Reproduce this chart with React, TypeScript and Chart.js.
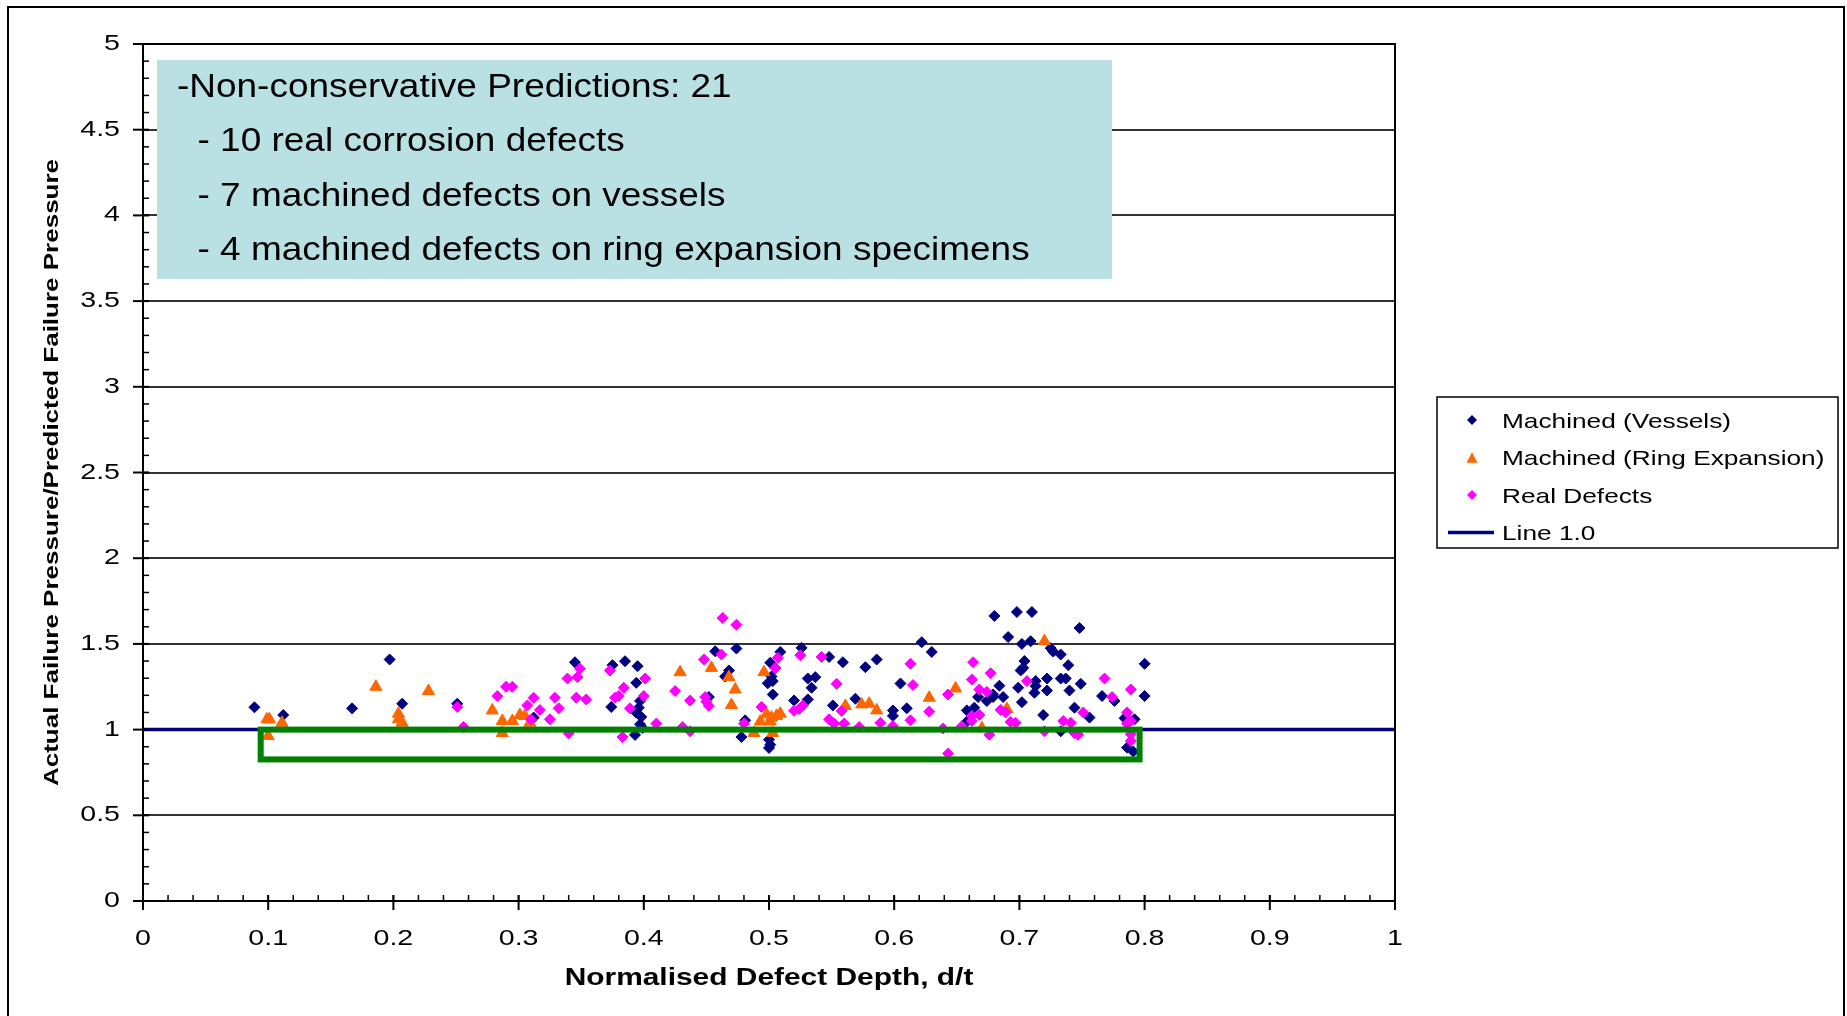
import React, { useEffect, useRef } from 'react';
import { Chart, registerables } from 'chart.js';

Chart.register(...registerables);

const FONT = "'Liberation Sans', Arial, Helvetica, sans-serif";

// ---- data ----
const vesselsPoints: [number, number][] = [
  [0.089, 1.13], [0.112, 1.085], [0.167, 1.124], [0.197, 1.409], [0.207, 1.151], [0.251, 1.151],
  [0.312, 1.07], [0.345, 1.393], [0.375, 1.376], [0.385, 1.399], [0.395, 1.37], [0.394, 1.273],
  [0.374, 1.132], [0.397, 1.167], [0.396, 1.128], [0.394, 1.099], [0.398, 1.074], [0.397, 1.031],
  [0.399, 1.01], [0.393, 0.969], [0.457, 1.457], [0.474, 1.473], [0.452, 1.19], [0.468, 1.345],
  [0.465, 1.31], [0.481, 1.054], [0.478, 0.957], [0.501, 1.39], [0.505, 1.36], [0.502, 1.31],
  [0.503, 1.283], [0.503, 1.205], [0.499, 1.27], [0.509, 1.453], [0.5, 0.941], [0.501, 0.912],
  [0.5, 0.893], [0.526, 1.477], [0.52, 1.17], [0.531, 1.176], [0.531, 1.298], [0.537, 1.306],
  [0.534, 1.244], [0.548, 1.424], [0.559, 1.393], [0.551, 1.141], [0.569, 1.18], [0.577, 1.364],
  [0.586, 1.409], [0.599, 1.112], [0.599, 1.08], [0.605, 1.269], [0.61, 1.124], [0.622, 1.51],
  [0.63, 1.453], [0.667, 1.19], [0.674, 1.167], [0.679, 1.19], [0.658, 1.112], [0.664, 1.128],
  [0.658, 1.047], [0.684, 1.256], [0.68, 1.663], [0.691, 1.54], [0.698, 1.686], [0.71, 1.686],
  [0.702, 1.5], [0.709, 1.516], [0.725, 1.475], [0.727, 1.455], [0.733, 1.438], [0.739, 1.376],
  [0.748, 1.593], [0.704, 1.4], [0.701, 1.345], [0.703, 1.36], [0.699, 1.244], [0.702, 1.16],
  [0.713, 1.283], [0.713, 1.254], [0.712, 1.215], [0.722, 1.298], [0.722, 1.228], [0.733, 1.298],
  [0.737, 1.298], [0.74, 1.228], [0.749, 1.267], [0.719, 1.085], [0.733, 0.99], [0.744, 1.128],
  [0.756, 1.07], [0.766, 1.196], [0.776, 1.167], [0.8, 1.384], [0.8, 1.196], [0.784, 1.066],
  [0.792, 1.06], [0.786, 0.895], [0.791, 0.872], [0.687, 1.19], [0.679, 1.205],
];

const ringPoints: [number, number][] = [
  [0.099, 1.06], [0.101, 1.06], [0.111, 1.04], [0.1, 0.963], [0.186, 1.25], [0.204, 1.093],
  [0.204, 1.06], [0.207, 1.04], [0.228, 1.225], [0.279, 1.112], [0.287, 1.05], [0.287, 0.98],
  [0.295, 1.05], [0.301, 1.085], [0.305, 1.08], [0.309, 1.04], [0.429, 1.335], [0.454, 1.36],
  [0.468, 1.306], [0.473, 1.234], [0.47, 1.143], [0.488, 0.98], [0.493, 1.047], [0.498, 1.089],
  [0.502, 1.07], [0.506, 1.08], [0.509, 1.093], [0.501, 1.047], [0.503, 0.98], [0.496, 1.335],
  [0.561, 1.138], [0.574, 1.147], [0.58, 1.151], [0.586, 1.112], [0.628, 1.186], [0.649, 1.24],
  [0.67, 1.008], [0.72, 1.516], [0.69, 1.12],
];

const realPoints: [number, number][] = [
  [0.251, 1.132], [0.256, 1.015], [0.283, 1.196], [0.29, 1.25], [0.295, 1.25], [0.312, 1.186],
  [0.307, 1.141], [0.317, 1.114], [0.31, 1.06], [0.325, 1.06], [0.329, 1.186], [0.332, 1.124],
  [0.34, 0.977], [0.339, 1.298], [0.347, 1.306], [0.349, 1.355], [0.346, 1.186], [0.354, 1.176],
  [0.373, 1.345], [0.401, 1.298], [0.384, 1.244], [0.38, 1.196], [0.377, 1.186], [0.4, 1.196],
  [0.389, 1.124], [0.383, 0.957], [0.41, 1.035], [0.425, 1.225], [0.431, 1.015], [0.437, 0.99],
  [0.437, 1.17], [0.448, 1.409], [0.462, 1.438], [0.463, 1.651], [0.474, 1.612], [0.449, 1.19],
  [0.452, 1.138], [0.45, 1.163], [0.48, 1.035], [0.494, 1.132], [0.507, 1.419], [0.505, 1.36],
  [0.525, 1.434], [0.524, 1.12], [0.527, 1.14], [0.52, 1.11], [0.542, 1.424], [0.554, 1.267],
  [0.548, 1.06], [0.552, 1.035], [0.56, 1.035], [0.558, 1.109], [0.572, 1.015], [0.589, 1.04],
  [0.599, 1.021], [0.615, 1.26], [0.613, 1.384], [0.613, 1.054], [0.628, 1.105], [0.639, 1.006],
  [0.643, 0.86], [0.643, 1.205], [0.663, 1.393], [0.677, 1.329], [0.662, 1.292], [0.668, 1.234],
  [0.674, 1.22], [0.662, 1.08], [0.668, 1.085], [0.662, 1.05], [0.654, 1.02], [0.676, 0.97],
  [0.685, 1.115], [0.689, 1.1], [0.697, 1.04], [0.693, 1.045], [0.706, 1.283], [0.72, 0.99],
  [0.735, 1.05], [0.741, 1.04], [0.744, 0.98], [0.747, 0.97], [0.751, 1.1], [0.768, 1.298],
  [0.774, 1.19], [0.789, 1.234], [0.786, 1.1], [0.786, 1.035], [0.789, 1.05], [0.789, 0.973],
  [0.789, 0.934],
];

const linePoints: [number, number][] = [[0, 1], [1, 1]];

const xTickLabels = ['0', '0.1', '0.2', '0.3', '0.4', '0.5', '0.6', '0.7', '0.8', '0.9', '1'];
const yTickLabels = ['0', '0.5', '1', '1.5', '2', '2.5', '3', '3.5', '4', '4.5', '5'];

const seriesNames = ['Machined (Vessels)', 'Machined (Ring Expansion)', 'Real Defects', 'Line 1.0'];
const noteLines = [
  '-Non-conservative Predictions: 21',
  '  - 10 real corrosion defects',
  '  - 7 machined defects on vessels',
  '  - 4 machined defects on ring expansion specimens',
];
const xTitle = 'Normalised Defect Depth, d/t';
const yTitle = 'Actual Failure Pressure/Predicted Failure Pressure';

// highlighted region (data units)
const boxXRange = [0.094, 0.796];
const boxYRange = [0.826, 1.0];

// ---- styles ----
const NAVY = '#000080';
const ORANGE = '#FF6600';
const MAGENTA = '#FF00FF';
const GREEN = '#008000';
const NOTE_BG = '#B9E0E3';

const AXIS_SX = 1.3;
const textStretch = { sx: AXIS_SX };

const toXY = (pts: [number, number][]) => pts.map(([x, y]) => ({ x, y }));

function diamond(ctx: CanvasRenderingContext2D, x: number, y: number, r: number, c: string) {
  ctx.beginPath();
  ctx.moveTo(x, y - r);
  ctx.lineTo(x + r, y);
  ctx.lineTo(x, y + r);
  ctx.lineTo(x - r, y);
  ctx.closePath();
  ctx.fillStyle = c;
  ctx.fill();
}
function triangle(ctx: CanvasRenderingContext2D, x: number, y: number, r: number, c: string) {
  const h = r * 0.95;
  ctx.beginPath();
  ctx.moveTo(x, y - h);
  ctx.lineTo(x + r, y + h);
  ctx.lineTo(x - r, y + h);
  ctx.closePath();
  ctx.fillStyle = c;
  ctx.fill();
}

const decorPlugin = {
  id: 'decor',
  beforeDatasetsDraw(chart: any) {
    const ctx: CanvasRenderingContext2D = chart.ctx;
    const { left, top } = chart.chartArea;
    ctx.save();
    ctx.fillStyle = NOTE_BG;
    ctx.fillRect(left + 14, top + 16, 955, 219);
    ctx.fillStyle = '#000';
    ctx.font = `33px ${FONT}`;
    ctx.textAlign = 'left';
    ctx.textBaseline = 'alphabetic';
    textStretch.sx = 1.12;
    noteLines.forEach((t, i) => ctx.fillText(t, left + 34, top + 53 + i * 54.3));
    textStretch.sx = AXIS_SX;
    ctx.restore();
  },
  afterDatasetsDraw(chart: any) {
    const ctx: CanvasRenderingContext2D = chart.ctx;
    const xs = chart.scales.x;
    const ys = chart.scales.y;
    const x1 = xs.getPixelForValue(boxXRange[0]);
    const x2 = xs.getPixelForValue(boxXRange[1]);
    const y1 = ys.getPixelForValue(boxYRange[1]);
    const y2 = ys.getPixelForValue(boxYRange[0]);
    ctx.save();
    ctx.strokeStyle = GREEN;
    ctx.lineWidth = 6;
    ctx.strokeRect(x1, y1, x2 - x1, y2 - y1);
    ctx.restore();
  },
  afterDraw(chart: any) {
    const ctx: CanvasRenderingContext2D = chart.ctx;
    const xs = chart.scales.x;
    const ys = chart.scales.y;
    const { left, right, top, bottom } = chart.chartArea;
    ctx.save();
    ctx.strokeStyle = '#000';
    const seg = (a: number, b: number, c: number, d: number) => {
      ctx.beginPath();
      ctx.moveTo(a, b);
      ctx.lineTo(c, d);
      ctx.stroke();
    };
    // minor ticks
    ctx.lineWidth = 1.5;
    for (let i = 0; i <= 50; i++) {
      const py = ys.getPixelForValue(i * 0.1);
      seg(left, py, left + 6, py);
      const px = xs.getPixelForValue(i * 0.02);
      seg(px, bottom, px, bottom - 6);
    }
    // major ticks
    ctx.lineWidth = 2;
    yTickLabels.forEach((l) => {
      const py = ys.getPixelForValue(parseFloat(l));
      seg(left - 10, py, left + 6, py);
    });
    xTickLabels.forEach((l) => {
      const px = xs.getPixelForValue(parseFloat(l));
      seg(px, bottom + 9, px, bottom - 6);
    });
    // plot border
    ctx.lineWidth = 2;
    ctx.strokeRect(left, top, right - left, bottom - top);

    // legend
    const lw = 401;
    const lh = 151;
    const lx = right + 42;
    const ly = Math.round((top + bottom) / 2 - lh / 2);
    ctx.fillStyle = '#fff';
    ctx.fillRect(lx, ly, lw, lh);
    ctx.lineWidth = 1.5;
    ctx.strokeStyle = '#000';
    ctx.strokeRect(lx, ly, lw, lh);
    ctx.font = `21px ${FONT}`;
    ctx.textAlign = 'left';
    ctx.textBaseline = 'alphabetic';
    textStretch.sx = 1.25;
    seriesNames.forEach((name, i) => {
      const cy = ly + 23 + i * 37.5;
      const mx = lx + 35;
      if (i === 0) diamond(ctx, mx, cy, 5, NAVY);
      if (i === 1) triangle(ctx, mx, cy, 5.5, ORANGE);
      if (i === 2) diamond(ctx, mx, cy, 5, MAGENTA);
      if (i === 3) {
        ctx.strokeStyle = NAVY;
        ctx.lineWidth = 3.5;
        seg(lx + 11, cy, lx + 57, cy);
      }
      ctx.fillStyle = '#000';
      ctx.fillText(name, lx + 65, cy + 7.5);
    });
    textStretch.sx = AXIS_SX;

    // outer frame
    ctx.strokeStyle = '#000';
    ctx.lineWidth = 2;
    ctx.strokeRect(8, 7, 1836, 1030);
    ctx.restore();
  },
};

export default function App() {
  const ref = useRef<HTMLCanvasElement>(null);

  useEffect(() => {
    const canvas = ref.current;
    if (!canvas) return;
    const ctx = canvas.getContext('2d') as any;
    const proto = CanvasRenderingContext2D.prototype;
    const origFill = proto.fillText;
    const origMeasure = proto.measureText;
    ctx.fillText = function (text: string, x: number, y: number) {
      this.save();
      this.translate(x, y);
      this.scale(textStretch.sx, 1);
      origFill.call(this, text, 0, 0);
      this.restore();
    };
    ctx.measureText = function (text: string) {
      const m = origMeasure.call(this, text);
      return {
        width: m.width * textStretch.sx,
        actualBoundingBoxAscent: m.actualBoundingBoxAscent,
        actualBoundingBoxDescent: m.actualBoundingBoxDescent,
        actualBoundingBoxLeft: m.actualBoundingBoxLeft * textStretch.sx,
        actualBoundingBoxRight: m.actualBoundingBoxRight * textStretch.sx,
        fontBoundingBoxAscent: m.fontBoundingBoxAscent,
        fontBoundingBoxDescent: m.fontBoundingBoxDescent,
      };
    };

    Chart.defaults.font.family = FONT;
    Chart.defaults.color = '#000';

    const chart = new Chart(canvas, {
      type: 'scatter',
      data: {
        datasets: [
          {
            label: seriesNames[0],
            data: toXY(vesselsPoints),
            pointStyle: 'rectRot',
            pointRadius: 5.5,
            backgroundColor: NAVY,
            borderColor: NAVY,
            borderWidth: 1,
            order: 3,
          },
          {
            label: seriesNames[1],
            data: toXY(ringPoints),
            pointStyle: 'triangle',
            pointRadius: 7,
            backgroundColor: ORANGE,
            borderColor: ORANGE,
            borderWidth: 1,
            order: 2,
          },
          {
            label: seriesNames[2],
            data: toXY(realPoints),
            pointStyle: 'rectRot',
            pointRadius: 5.5,
            backgroundColor: MAGENTA,
            borderColor: MAGENTA,
            borderWidth: 1,
            order: 1,
          },
          {
            label: seriesNames[3],
            data: toXY(linePoints),
            showLine: true,
            pointRadius: 0,
            borderColor: NAVY,
            backgroundColor: NAVY,
            borderWidth: 3.5,
            order: 0,
          },
        ],
      },
      options: {
        responsive: false,
        maintainAspectRatio: false,
        devicePixelRatio: 1,
        animation: false,
        events: [],
        layout: { padding: { left: 0, top: 44, right: 452, bottom: 0 } },
        plugins: {
          legend: { display: false },
          tooltip: { enabled: false },
        },
        scales: {
          x: {
            type: 'linear',
            min: 0,
            max: 1,
            afterFit: (s: any) => {
              s.height = 115;
            },
            ticks: {
              stepSize: 0.1,
              autoSkip: false,
              maxRotation: 0,
              minRotation: 0,
              padding: 25,
              color: '#000',
              font: { size: 22, family: FONT },
              callback: (v: any, i: number) => xTickLabels[i] ?? String(v),
            },
            grid: { display: false, drawTicks: false },
            border: { display: false },
            title: {
              display: true,
              text: xTitle,
              color: '#000',
              font: { size: 23, weight: 'bold', family: FONT },
              padding: { top: 0, bottom: 24 },
            },
          },
          y: {
            type: 'linear',
            min: 0,
            max: 5,
            afterFit: (s: any) => {
              s.width = 143;
            },
            ticks: {
              stepSize: 0.5,
              padding: 23,
              color: '#000',
              font: { size: 22, family: FONT },
              callback: (v: any, i: number) => yTickLabels[i] ?? String(v),
            },
            grid: { display: true, drawTicks: false, color: '#333', lineWidth: 2 },
            border: { display: false },
            title: {
              display: true,
              text: yTitle,
              color: '#000',
              font: { size: 20, weight: 'bold', family: FONT },
              padding: { top: 40, bottom: 0 },
            },
          },
        },
      } as any,
      plugins: [decorPlugin],
    });

    return () => {
      chart.destroy();
      delete ctx.fillText;
      delete ctx.measureText;
    };
  }, []);

  return (
    <div style={{ position: 'fixed', left: 0, top: 0, width: 1847, height: 1016, background: '#fff' }}>
      <canvas ref={ref} width={1847} height={1016} style={{ display: 'block' }} />
    </div>
  );
}
